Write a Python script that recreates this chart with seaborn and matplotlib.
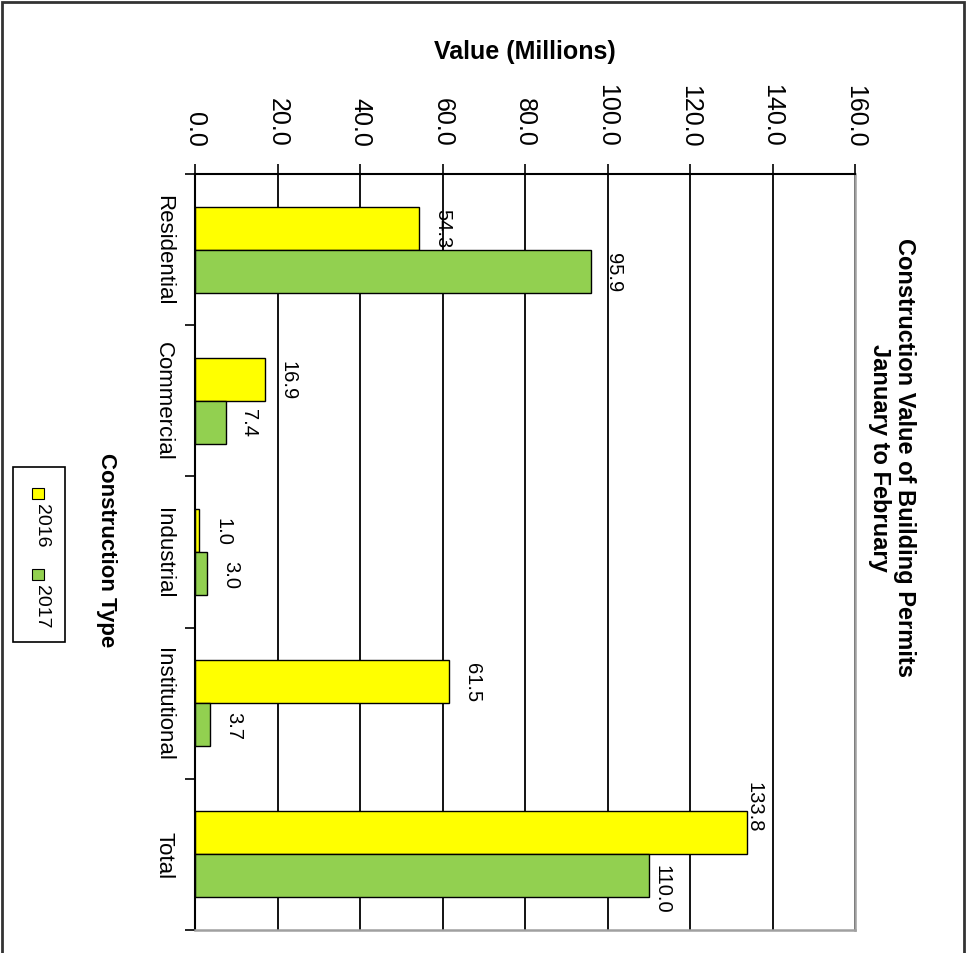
import numpy as np
import pandas as pd
import matplotlib.pyplot as plt
from matplotlib.patches import Rectangle
import seaborn as sns

# data
categories = ['Residential', 'Commercial', 'Industrial', 'Institutional', 'Total']
years = ['2016', '2017']
values_2016 = [54.3, 16.9, 1.0, 61.5, 133.8]
values_2017 = [95.9, 7.4, 3.0, 3.7, 110.0]
value_ticks = [0, 20, 40, 60, 80, 100, 120, 140, 160]
colors = ['#FFFF00', '#92D050']

sns.set_style('white')
plt.rcParams['font.family'] = ['Liberation Sans', 'DejaVu Sans']
plt.rcParams['text.color'] = 'black'
plt.rcParams['axes.labelcolor'] = 'black'
plt.rcParams['xtick.color'] = 'black'
plt.rcParams['ytick.color'] = 'black'

df = pd.DataFrame({
    'type': categories * 2,
    'year': [years[0]] * len(categories) + [years[1]] * len(categories),
    'value': values_2016 + values_2017,
})

W, H = 969, 954
fig = plt.figure(figsize=(W / 100, H / 100), dpi=100)
ax = fig.add_axes([195 / W, 1 - 931 / H, 660 / W, 756 / H])

sns.barplot(data=df, x='value', y='type', hue='year', orient='h',
            palette=colors, saturation=1, width=0.57,
            edgecolor='black', linewidth=1, legend=False, ax=ax)

# value axis on top, labels turned like the rest of the chart
ax.set_xlim(0, 160)
ax.set_xticks(value_ticks, [f'{v:.1f}' for v in value_ticks])
ax.xaxis.tick_top()
ax.tick_params(axis='x', direction='out', length=7, width=1.2,
               pad=13, labelsize=18, labelrotation=-90)
ax.xaxis.set_label_position('top')
ax.set_xlabel('Value (Millions)', fontsize=18, fontweight='bold', labelpad=18)
ax.xaxis.grid(True, color='black', linewidth=1.3)
ax.set_axisbelow(True)

# category axis: labels at centres, ticks at boundaries
ax.tick_params(axis='y', which='major', length=0, pad=15, labelsize=16, labelrotation=-90)
for lab in ax.get_yticklabels():
    lab.set_va('center')
ax.set_yticks(np.arange(-0.5, len(categories), 1), minor=True)
ax.tick_params(axis='y', which='minor', direction='out', length=7, width=1.2, left=True)
ax.set_ylabel('')

for s in ['left', 'top']:
    ax.spines[s].set_color('black')
    ax.spines[s].set_linewidth(1.5)
for s in ['right', 'bottom']:
    ax.spines[s].set_color('#A0A0A0')
    ax.spines[s].set_linewidth(1.8)

labels = []
for cont in ax.containers:
    labels.append(ax.bar_label(cont, fmt='%.1f', padding=10, rotation=-90, fontsize=14.5))
# the Total labels sit a little off in the original
labels[0][-1].xyann = (-2, 19)
labels[1][-1].xyann = (3, -9)

fig.text(892 / W, 1 - 458 / H, 'Construction Value of Building Permits\nJanuary to February',
         rotation=-90, ha='center', va='center', multialignment='center',
         fontsize=17, fontweight='bold', linespacing=1.15)
fig.text(106 / W, 1 - 550 / H, 'Construction Type', rotation=-90,
         ha='center', va='center', fontsize=16, fontweight='bold')

# legend, turned by hand
fig.add_artist(Rectangle((13 / W, 1 - 643 / H), 52 / W, 175 / H, transform=fig.transFigure,
                         facecolor='white', edgecolor='black', linewidth=1.2))
for i, (yr, col) in enumerate(zip(years, colors)):
    y0 = 489 + i * 81
    fig.add_artist(Rectangle((32 / W, 1 - (y0 + 11) / H), 12 / W, 11 / H, transform=fig.transFigure,
                             facecolor=col, edgecolor='black', linewidth=0.8))
    fig.text(41 / W, 1 - (y0 + 37) / H, yr, rotation=-90, ha='center', va='center', fontsize=14)

# outer frame
fig.add_artist(Rectangle((2 / W, -0.05), 962 / W, 1.05 - 3 / H, transform=fig.transFigure,
                         fill=False, edgecolor='#333333', linewidth=2))

fig.savefig('out.png', dpi=100)
